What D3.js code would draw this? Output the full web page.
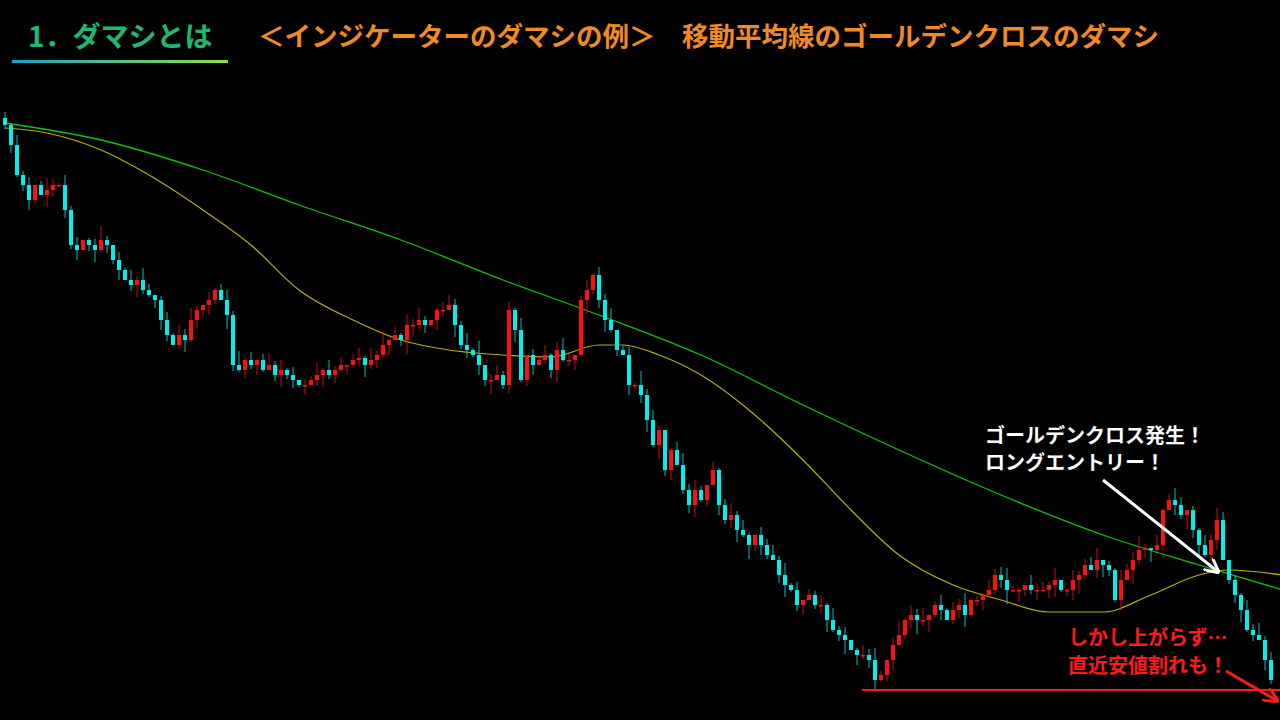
<!DOCTYPE html><html><head><meta charset="utf-8"><script src="https://cdn.jsdelivr.net/npm/d3@7"></script>
<style>body{margin:0;background:#000}svg{display:block}</style></head><body><svg id="c" width="1280" height="720"></svg>
<script>
// close levels (price units = screen-like level, higher value = lower price)
const closeLv=[125,145,175,185,200,185,195,190,185,185,210,245,250,240,245,250,240,245,260,270,280,285,280,290,295,300,320,335,345,335,340,320,310,305,300,290,300,315,365,370,360,365,360,370,365,375,370,375,380,385,385,380,375,370,375,370,365,365,360,358,365,360,355,345,340,335,340,325,325,320,325,320,310,310,305,325,345,350,355,365,380,380,375,385,310,330,380,355,365,360,355,370,350,360,360,355,300,290,275,300,320,330,350,355,385,385,395,420,445,430,470,450,465,490,505,490,500,485,470,505,520,515,530,535,545,535,545,555,560,575,585,590,605,600,595,605,605,620,630,635,640,650,655,655,660,680,675,660,645,635,620,615,620,620,615,605,610,620,610,605,615,600,600,595,590,575,580,590,590,590,585,590,590,590,585,580,590,590,580,575,565,570,560,565,570,600,580,570,560,550,548,550,545,510,500,505,515,510,530,545,555,540,520,560,580,595,610,630,635,640,660,680];
const wickHi="3152402631524013720415263024153620413527140362514032615240351627041536201453261703524160325146302514360241735201463520413625104352614032516240153620471536025143602153462105342601523460215347205136402153640215362401536240153624015362402153";
const wickLo="2413520631425036142503621453026143520731425103624150362415036241503762415306241537024613502461350724613052461735024613052461735204613502461370524613502473615024613502471632504613572046315072461305274613502461305274163052461730524613";
const priceMax=720;
const ma75=[[0,123],[16,140],[33,170],[49,205],[66,240],[83,280],[99,315],[116,355],[133,405],[149,450],[166,495],[183,535],[199,565],[213,590]];
const ma25=[[0,128],[7,133],[16,150],[24,175],[33,210],[41,245],[49,290],[58,320],[66,340],[74,350],[83,355],[91,357],[99,345],[103,345],[109,355],[116,375],[124,410],[133,460],[141,510],[149,555],[158,585],[166,600],[174,612],[183,612],[191,595],[199,575],[204,570],[213,575]];

const svg=d3.select("#c");
const x=d3.scaleLinear().domain([0,1]).range([5,11]);
const y=d3.scaleLinear().domain([0,priceMax]).range([720,0]);
const price=v=>priceMax-v;
const candles=closeLv.map((c,i)=>{const o=i?closeLv[i-1]:118;const oc=price(o),cc=price(c);
 return {i,o:oc,c:cc,h:Math.max(oc,cc)+(+wickHi[i]||0)*2,l:Math.min(oc,cc)-(+wickLo[i]||0)*2};});
const line=d3.line().x(d=>x(d[0])).y(d=>y(price(d[1]))).curve(d3.curveMonotoneX);
svg.append("path").attr("d",line(ma75)).attr("fill","none").attr("stroke","#14c014").attr("stroke-width",1.3);
svg.append("path").attr("d",line(ma25)).attr("fill","none").attr("stroke","#b8b000").attr("stroke-width",1.2);
const g=svg.append("g");
candles.forEach(d=>{const col=d.c>=d.o?"#ff1010":"#00f0f0";
 g.append("line").attr("x1",x(d.i)).attr("x2",x(d.i)).attr("y1",y(d.h)).attr("y2",y(d.l)).attr("stroke",col).attr("opacity",0.8);
 g.append("rect").attr("x",x(d.i)-2).attr("width",4).attr("y",y(Math.max(d.o,d.c))).attr("height",Math.max(1.5,Math.abs(y(d.o)-y(d.c)))).attr("fill",col);});
// title
const grad=svg.append("defs").append("linearGradient").attr("id","ug");
grad.append("stop").attr("offset","0").attr("stop-color","#1aa0c8");grad.append("stop").attr("offset","1").attr("stop-color","#8ee040");
svg.append("rect").attr("x",12).attr("y",60).attr("width",216).attr("height",3).attr("fill","url(#ug)");
const F="'Noto Sans CJK JP',sans-serif";
svg.append("text").attr("x",28).attr("y",47).attr("fill","#20b870").attr("font-family",F).attr("font-weight","bold").attr("font-size",28).text("1．ダマシとは");
svg.append("text").attr("x",258).attr("y",46).attr("fill","#f08a24").attr("font-family",F).attr("font-weight","bold").attr("font-size",26.5).text("＜インジケーターのダマシの例＞　移動平均線のゴールデンクロスのダマシ");
const ann=[["ゴールデンクロス発生！",443,"#fff"],["ロングエントリー！",470,"#fff"]];
ann.forEach(a=>svg.append("text").attr("x",985).attr("y",a[1]).attr("fill",a[2]).attr("font-family",F).attr("font-weight","bold").attr("font-size",20).text(a[0]));
[["しかし上がらず…",645],["直近安値割れも！",673]].forEach(a=>svg.append("text").attr("x",1068).attr("y",a[1]).attr("fill","#ff1a1a").attr("font-family",F).attr("font-weight","bold").attr("font-size",20).text(a[0]));
const defs=svg.select("defs");
[["aw","#fff"],["ar","#ff1a1a"]].forEach(m=>defs.append("marker").attr("id",m[0]).attr("viewBox","0 0 10 10").attr("refX",8).attr("refY",5).attr("markerWidth",5).attr("markerHeight",5).attr("orient","auto").append("path").attr("d","M0,0L10,5L0,10").attr("fill","none").attr("stroke",m[1]).attr("stroke-width",2));
svg.append("line").attr("x1",1103).attr("y1",480).attr("x2",1217).attr("y2",571).attr("stroke","#fff").attr("stroke-width",3).attr("marker-end","url(#aw)");
svg.append("line").attr("x1",862).attr("x2",1280).attr("y1",690).attr("y2",690).attr("stroke","#ff1a1a").attr("stroke-width",2);
svg.append("line").attr("x1",1226).attr("y1",671).attr("x2",1276).attr("y2",700).attr("stroke","#ff1a1a").attr("stroke-width",3).attr("marker-end","url(#ar)");
</script></body></html>
